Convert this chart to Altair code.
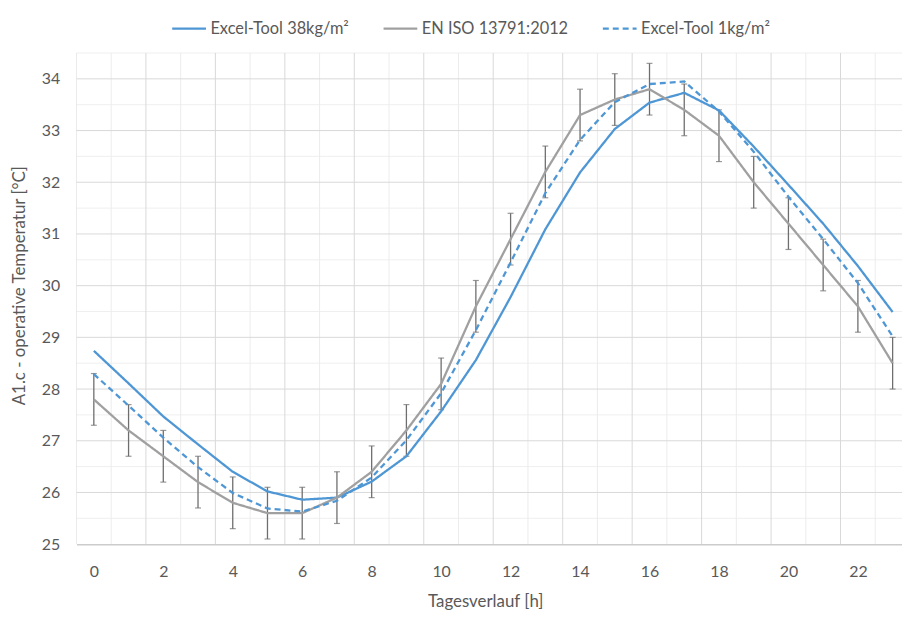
import altair as alt
import pandas as pd

# ---------------- data ----------------
hours = list(range(24))
series_names = ["Excel-Tool 38kg/m²", "EN ISO 13791:2012", "Excel-Tool 1kg/m²"]
excel_38 = [28.74, 28.11, 27.47, 26.93, 26.40, 26.02, 25.86, 25.90, 26.21, 26.70, 27.57, 28.56,
            29.78, 31.09, 32.19, 33.03, 33.54, 33.73, 33.39, 32.69, 31.95, 31.20, 30.38, 29.49]
en_iso = [27.8, 27.2, 26.7, 26.2, 25.8, 25.6, 25.6, 25.9, 26.4, 27.2, 28.1, 29.6,
          30.9, 32.2, 33.3, 33.6, 33.8, 33.4, 32.9, 32.0, 31.2, 30.4, 29.6, 28.5]
excel_1 = [28.29, 27.68, 27.06, 26.49, 25.99, 25.69, 25.63, 25.84, 26.29, 27.01, 27.92, 29.14,
           30.45, 31.79, 32.82, 33.55, 33.90, 33.95, 33.37, 32.59, 31.72, 30.90, 30.05, 29.02]
err = 0.5

x_labels = [0, 2, 4, 6, 8, 10, 12, 14, 16, 18, 20, 22]
y_labels = [25, 26, 27, 28, 29, 30, 31, 32, 33, 34]
y_grid_major = [26, 27, 28, 29, 30, 31, 32, 33, 34]
y_grid_minor = [25.5, 26.5, 27.5, 28.5, 29.5, 30.5, 31.5, 32.5, 33.5, 34.5]
x_grid_major = [-0.5, 1.5, 3.5, 5.5, 7.5, 9.5, 11.5, 13.5, 15.5, 17.5, 19.5, 21.5]
x_grid_minor = [0.5, 2.5, 4.5, 6.5, 8.5, 10.5, 12.5, 14.5, 16.5, 18.5, 20.5, 22.5]

# ---------------- tables ----------------
rows = []
for name, vals in zip(series_names, [excel_38, en_iso, excel_1]):
    for h, v in zip(hours, vals):
        rows.append({"hour": h, "value": v, "series": name})
lines_df = pd.DataFrame(rows)
err_df = pd.DataFrame({"hour": hours,
                       "lo": [v - err for v in en_iso],
                       "hi": [v + err for v in en_iso]})

FONT = "Lato"
TEXT = "#595959"
BLUE = "#4f97d4"
GRAY = "#a0a0a0"
BAR = "#6e6e6e"

xs = alt.Scale(domain=[-0.5, 23.27], nice=False, zero=False)
ys = alt.Scale(domain=[25, 34.5], nice=False, zero=False)

common = dict(labelFont=FONT, labelFontSize=16, labelColor=TEXT,
              titleFont=FONT, titleFontSize=17, titleColor=TEXT, titleFontWeight="normal",
              labelFlush=False, labelOverlap=False, grid=False, ticks=False, tickSize=0)

x_axis = alt.Axis(values=x_labels, title="Tagesverlauf [h]", labelPadding=20,
                  domainColor="#cccccc", domainWidth=1.5,
                  titleX=412, titleY=58, titleBaseline="middle", titleAlign="center", **common)
y_axis = alt.Axis(values=y_labels, title="A1.c - operative Temperatur [°C]", domain=False,
                  labelPadding=17, titleX=-57, titleY=234, titleBaseline="middle",
                  titleAlign="center", titleAngle=-90, **common)

def X(field):
    return alt.X(field, scale=xs, axis=x_axis)

def Y(field):
    return alt.Y(field, scale=ys, axis=y_axis)

def hrules(vals, color):
    return alt.Chart(pd.DataFrame({"v": vals})).mark_rule(color=color, strokeWidth=1).encode(
        y=Y("v:Q"))

def vrules(vals, color):
    return alt.Chart(pd.DataFrame({"v": vals})).mark_rule(color=color, strokeWidth=1, clip=True).encode(
        x=X("v:Q"))

grid = (hrules(y_grid_minor, "#efefef") + vrules(x_grid_minor, "#ececec")
        + hrules(y_grid_major, "#d9d9d9") + vrules(x_grid_major, "#d9d9d9"))

err_rule = alt.Chart(err_df).mark_rule(color=BAR, strokeWidth=1.3).encode(
    x=X("hour:Q"), y=Y("lo:Q"), y2="hi:Q")
cap_lo = alt.Chart(err_df).mark_tick(color=BAR, orient="horizontal", size=6, thickness=1.2).encode(
    x=X("hour:Q"), y=Y("lo:Q"))
cap_hi = alt.Chart(err_df).mark_tick(color=BAR, orient="horizontal", size=6, thickness=1.2).encode(
    x=X("hour:Q"), y=Y("hi:Q"))

legend = alt.Legend(title=None, orient="none", legendX=95, legendY=-43, direction="horizontal",
                    symbolType="stroke", symbolSize=1156, symbolStrokeWidth=2.2,
                    labelFont=FONT, labelFontSize=16.5, labelColor=TEXT, labelOffset=3,
                    columnPadding=30, padding=0)

lines = alt.Chart(lines_df).mark_line(strokeWidth=2.3).encode(
    x=X("hour:Q"),
    y=Y("value:Q"),
    color=alt.Color("series:N", scale=alt.Scale(domain=series_names, range=[BLUE, GRAY, BLUE]),
                    sort=series_names, legend=legend),
    strokeDash=alt.StrokeDash("series:N",
                              scale=alt.Scale(domain=series_names, range=[[1, 0], [1, 0], [6, 4]]),
                              sort=series_names, legend=legend),
    order=alt.Order("hour:Q"),
)

chart = (grid + err_rule + cap_lo + cap_hi + lines).properties(
    width=832, height=495,
    background="white",
    autosize=alt.AutoSizeParams(type="none"),
    padding={"left": 69, "top": 43, "right": 0, "bottom": 64},
).configure_view(stroke=None)

chart.save("out.html", embed_options={"renderer": "svg", "actions": False})
